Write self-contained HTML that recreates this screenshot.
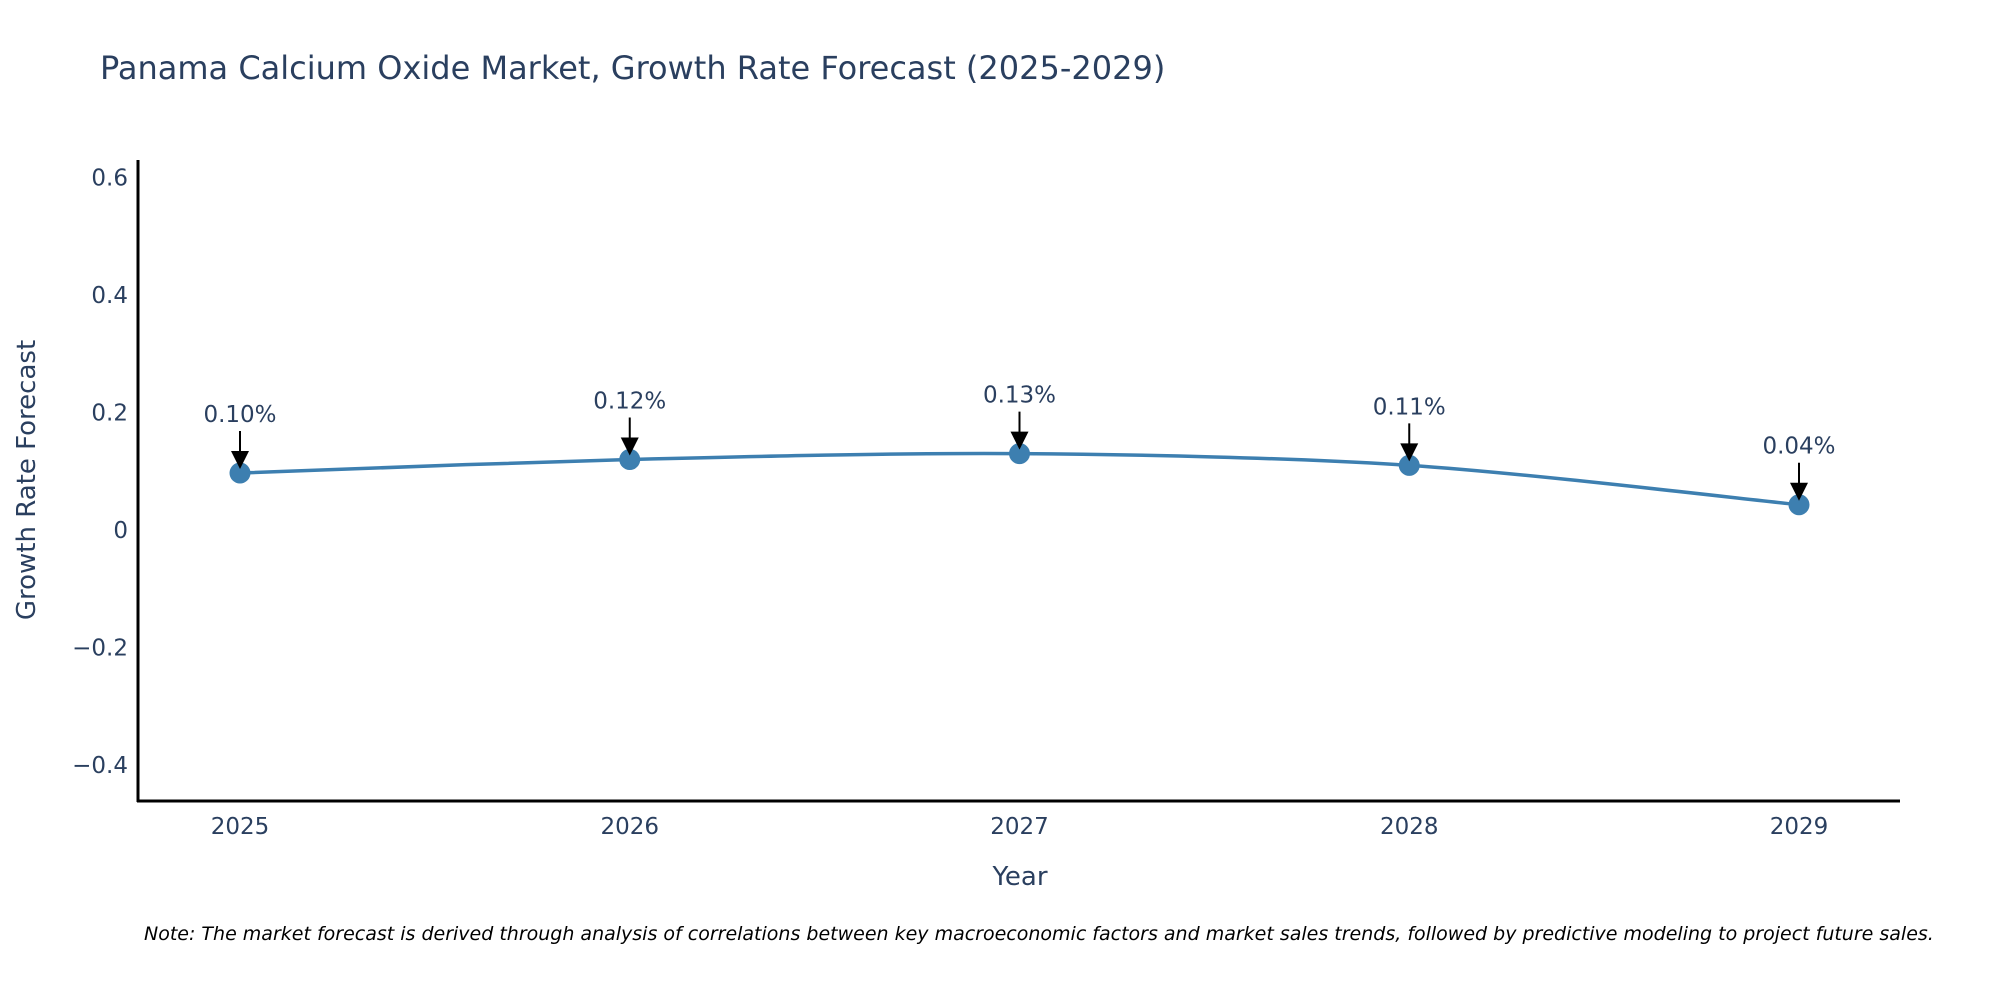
<!DOCTYPE html>
<html><head><meta charset="utf-8"><style>
body{margin:0;background:#fff;}
svg{display:block;font-family:"DejaVu Sans","Liberation Sans",sans-serif;}
</style></head><body>
<svg id="chart" width="2000" height="1000" viewBox="0 0 2000 1000">
<rect width="2000" height="1000" fill="#fff"/>
<text x="100" y="79" font-size="32" fill="#2a3f5f">Panama Calcium Oxide Market, Growth Rate Forecast (2025-2029)</text>
<g id="yticks"></g><g id="xticks"></g>
<line x1="138" y1="160" x2="138" y2="802" stroke="#000" stroke-width="3"/>
<line x1="137" y1="801" x2="1900" y2="801" stroke="#000" stroke-width="3"/>
<g id="series"></g>
<text x="1020" y="885" font-size="26" fill="#2a3f5f" text-anchor="middle">Year</text>
<text transform="translate(35,480) rotate(-90)" font-size="26" fill="#2a3f5f" text-anchor="middle">Growth Rate Forecast</text>
<text x="144" y="940" font-size="19" font-style="italic" fill="#000">Note: The market forecast is derived through analysis of correlations between key macroeconomic factors and market sales trends, followed by predictive modeling to project future sales.</text>
</svg>
<script>
const years = [2025, 2026, 2027, 2028, 2029];
const growth = [0.097, 0.12, 0.13, 0.11, 0.043];
const labels = ["0.10%", "0.12%", "0.13%", "0.11%", "0.04%"];
const yTicks = [-0.4, -0.2, 0, 0.2, 0.4, 0.6];
const yTickLabels = ["\u22120.4", "\u22120.2", "0", "0.2", "0.4", "0.6"];

const NS = "http://www.w3.org/2000/svg";
function xs(v){ return 240 + (v - 2025) * 389.75; }
function ys(v){ return 530 - v * 587.5; }
function mk(tag, attrs, parent, text){
  const e = document.createElementNS(NS, tag);
  for (const k in attrs) e.setAttribute(k, attrs[k]);
  if (text !== undefined) e.textContent = text;
  parent.appendChild(e); return e;
}
const yg = document.getElementById('yticks');
yTicks.forEach((t, i) => {
  const e = mk('text', {x: 128, y: ys(t) + 8, 'font-size': 23, fill: '#2a3f5f', 'text-anchor': 'end'}, yg, yTickLabels[i]);
  
  
});
const xg = document.getElementById('xticks');
years.forEach(y => {
  const e = mk('text', {x: xs(y), y: 834, 'font-size': 23, fill: '#2a3f5f', 'text-anchor': 'middle'}, xg, String(y));
  
  
});
const sg = document.getElementById('series');
const P = years.map((y, i) => [xs(y), ys(growth[i])]);
let d = 'M' + P[0][0] + ',' + P[0][1];
for (let i = 0; i < P.length - 1; i++) {
  const p0 = P[Math.max(0, i - 1)], p1 = P[i], p2 = P[i + 1], p3 = P[Math.min(P.length - 1, i + 2)];
  const t = 0.15;
  const c1 = [p1[0] + (p2[0] - p0[0]) * t, p1[1] + (p2[1] - p0[1]) * t];
  const c2 = [p2[0] - (p3[0] - p1[0]) * t, p2[1] - (p3[1] - p1[1]) * t];
  d += ' C' + c1 + ' ' + c2 + ' ' + p2;
}
const line = mk('path', {d: d, fill: 'none', stroke: '#3d7fb0', 'stroke-width': 3.5}, sg);


P.forEach((p, i) => {
  const c = mk('circle', {cx: p[0], cy: p[1], r: 10.5, fill: '#3d7fb0'}, sg);
  
  
  const a = mk('line', {x1: p[0], y1: p[1] - 42, x2: p[0], y2: p[1] - 18, stroke: '#000', 'stroke-width': 2}, sg);
  
  
  const h = mk('polygon', {points: (p[0]-9)+','+(p[1]-22)+' '+(p[0]+9)+','+(p[1]-22)+' '+p[0]+','+(p[1]-4)}, sg);
  
  
  const tx = mk('text', {x: p[0], y: p[1] - 51, 'font-size': 23, fill: '#2a3f5f', 'text-anchor': 'middle'}, sg, labels[i]);
  
  
});
</script>
</body></html>
